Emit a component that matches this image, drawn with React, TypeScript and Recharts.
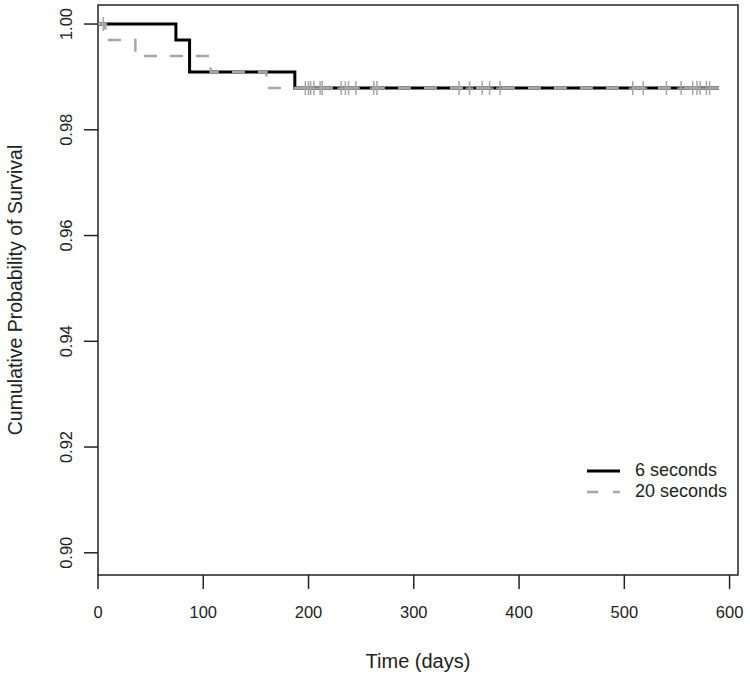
import { ComposedChart, Line, Scatter, XAxis, YAxis, ReferenceArea, Legend } from "recharts";

// Kaplan-Meier steps
const times6 = [0, 74, 87, 187, 590];
const surv6 = [1, 0.99697, 0.99091, 0.98788, 0.98788];

const times20 = [0, 7, 35.5, 107, 160, 590];
const surv20 = [1, 0.99697, 0.99394, 0.99091, 0.98788, 0.98788];

// censored observations ("+" marks)
const censorTimes = [
  5, 197, 200, 202, 205, 211, 213, 231, 235, 238, 245, 262, 265,
  343, 353, 365, 372, 382, 508, 518, 540, 554, 565, 569, 572, 578, 581,
];
const censorSurv = censorTimes.map((t) => (t < 7 ? 1 : 0.98788));

const xTicks = [0, 100, 200, 300, 400, 500, 600];
const yTicks = [0.9, 0.92, 0.94, 0.96, 0.98, 1.0];

const seriesNames = ["6 seconds", "20 seconds"];

const data6 = times6.map((t, i) => ({ t, s: surv6[i] }));
const data20 = times20.map((t, i) => ({ t, s: surv20[i] }));
const censorData = censorTimes.map((t, i) => ({ t, s: censorSurv[i] }));

const FONT = "'Liberation Sans', Arial, sans-serif";
const INK = "#222";
const GRAY = "#a6a6a6";

const YTick = ({ x, y, payload }: any) => (
  <text
    x={x}
    y={y}
    transform={`rotate(-90 ${x} ${y})`}
    textAnchor="middle"
    fontSize={16.5}
    fontFamily={FONT}
    fill={INK}
  >
    {Number(payload.value).toFixed(2)}
  </text>
);

const CensorMark = ({ cx, cy }: any) => (
  <g stroke={GRAY} strokeWidth={1.5}>
    <line x1={cx} x2={cx} y1={cy - 7} y2={cy + 7} />
    <line x1={cx - 4} x2={cx + 4} y1={cy} y2={cy} />
  </g>
);

const KMLegend = () => (
  <div style={{ fontFamily: FONT, fontSize: 18, color: INK }}>
    <div style={{ display: "flex", alignItems: "center", height: 21 }}>
      <svg width={34} height={8}>
        <line x1={0} x2={33} y1={4} y2={4} stroke="#000" strokeWidth={3} />
      </svg>
      <span style={{ marginLeft: 14 }}>{seriesNames[0]}</span>
    </div>
    <div style={{ display: "flex", alignItems: "center", height: 21 }}>
      <svg width={34} height={8}>
        <line x1={0} x2={33} y1={4} y2={4} stroke={GRAY} strokeWidth={2.5} strokeDasharray="11 15" />
      </svg>
      <span style={{ marginLeft: 14 }}>{seriesNames[1]}</span>
    </div>
  </div>
);

export default function App() {
  return (
    <div style={{ position: "absolute", left: 0, top: 0 }}>
      <ComposedChart width={750} height={674} margin={{ top: 5, right: 12, bottom: 0, left: 0 }}>
        <XAxis
          type="number"
          dataKey="t"
          domain={[0, 608]}
          ticks={xTicks}
          interval={0}
          axisLine={false}
          tickSize={14}
          tickMargin={17}
          tickLine={{ stroke: INK, strokeWidth: 1.5 }}
          tick={{ fontSize: 16.5, fill: INK, fontFamily: FONT }}
          height={99}
          label={{ value: "Time (days)", position: "insideBottom", offset: 6, fontSize: 20, fill: INK, fontFamily: FONT }}
        />
        <YAxis
          type="number"
          dataKey="s"
          domain={[0.8958, 1.0036]}
          ticks={yTicks}
          interval={0}
          axisLine={false}
          tickSize={14}
          tickMargin={12}
          tickLine={{ stroke: INK, strokeWidth: 1.5 }}
          tick={<YTick />}
          width={98}
          label={{
            value: "Cumulative Probability of Survival",
            angle: -90,
            position: "insideLeft",
            offset: 15,
            fontSize: 19.5,
            fill: INK,
            fontFamily: FONT,
            style: { textAnchor: "middle" },
          }}
        />
        <ReferenceArea x1={0} x2={608} y1={0.8958} y2={1.0036} fill="none" stroke={INK} strokeWidth={1.5} />
        <Line
          data={data6}
          dataKey="s"
          type="stepAfter"
          stroke="#000"
          strokeWidth={3}
          dot={false}
          name={seriesNames[0]}
          isAnimationActive={false}
        />
        <Line
          data={data20}
          dataKey="s"
          type="stepAfter"
          stroke={GRAY}
          strokeWidth={2.5}
          strokeDasharray="13 13"
          dot={false}
          name={seriesNames[1]}
          isAnimationActive={false}
        />
        <Scatter data={censorData} dataKey="s" shape={<CensorMark />} isAnimationActive={false} />
        <Legend
          layout="vertical"
          align="center"
          verticalAlign="middle"
          content={<KMLegend />}
          wrapperStyle={{ left: 587, top: 460, width: 160 }}
        />
      </ComposedChart>
    </div>
  );
}
